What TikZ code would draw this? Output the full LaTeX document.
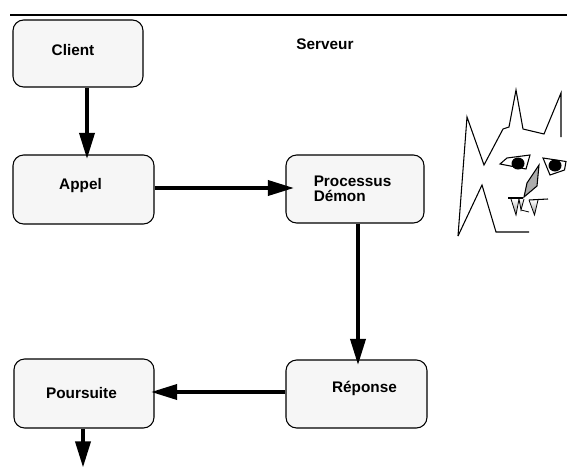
\documentclass[tikz,border=0pt]{standalone}
\usepackage{fontspec}
\setmainfont{Liberation Sans}
\usetikzlibrary{arrows.meta,calc}
\tikzset{
  box/.style={draw=black, line width=0.8pt, fill=gray!7, rounded corners=8pt, inner sep=0pt},
  lbl/.style={font=\fontsize{11.5}{11.5}\selectfont\bfseries, inner sep=0pt},
  flow/.style={line width=3.5pt, -{Triangle[length=20pt, width=11pt]}},
  sketch/.style={line width=0.8pt, line join=miter},
}
\begin{document}
\begin{tikzpicture}[x=0.75pt, y=-0.75pt]
\useasboundingbox (0,0) rectangle (567,468);

% heading rule
\draw[line width=1.5pt] (10,15) -- (567,15);
\node[lbl] (serveur) at (325,44) {Serveur};

% boxes
\node[box, minimum width=97.5pt, minimum height=50.25pt] (client) at (78,53.5) {};
\node[box, minimum width=105.75pt, minimum height=51.75pt] (appel) at (83.5,189.5) {};
\node[box, minimum width=103.5pt, minimum height=51pt] (demon) at (355,189) {};
\node[box, minimum width=105.75pt, minimum height=51pt] (reponse) at (356.5,394) {};
\node[box, minimum width=105pt, minimum height=51.75pt] (suite) at (84,393.5) {};

% labels
\node[lbl] (tclient) at (73,50) {Client};
\node[lbl] (tappel) at (80.5,186) {Appel};
\node[lbl, anchor=west, align=left, font=\fontsize{11.5}{11.25}\selectfont\bfseries] (tdemon) at (313.5,188.5) {Processus\\Démon};
\node[lbl] (treponse) at (364.5,388) {Réponse};
\node[lbl] (tsuite) at (81.5,393) {Poursuite};

% connectors
\coordinate (out) at (83,468);
\draw[flow, shorten >=-3.75pt] (client.south -| 87,0) -- (appel.north -| 87,0);
\draw[flow, shorten >=-6.75pt] (appel.east |- 0,188) -- (demon.west |- 0,188);
\draw[flow, shorten >=-4.5pt] (demon.south -| 358,0) -- (reponse.north -| 358,0);
\draw[flow, shorten >=-3pt] (reponse.west |- 0,392) -- (suite.east |- 0,392);
\draw[flow] (suite.south -| out) -- (out);

% the daemon's face
\draw[sketch] (458,236) -- (467,117) -- (484,165) -- (503,129) -- (509,127)
  -- (516,90) -- (523,129) -- (544,134) -- (561,93) -- (561,137);
\draw[sketch] (458,236) -- (482,185) -- (496,232) -- (529,232);
% eyes
\draw[sketch] (500,164) -- (507,158) -- (530,155) -- (526,169) -- cycle;
\fill (518,163.5) ellipse [x radius=6.5, y radius=6];
\draw[sketch] (543,158) -- (566,161.5) -- (564.5,170) -- (550,175) -- cycle;
\fill (555,165.5) ellipse [x radius=6.5, y radius=6];
% nose
\draw[sketch, fill=gray!65] (539,165) -- (527,183) -- (524,197) -- (537,186) -- cycle;
% mouth and fangs
\shade[top color=white, bottom color=gray!80] (511,199) -- (519,199) -- (516,215) -- cycle;
\draw[line width=0.6pt] (511,199) -- (516,215) -- (519,199);
\shade[top color=white, bottom color=gray!80] (519,199) -- (524,199) -- (521,210) -- cycle;
\draw[line width=0.6pt] (519,199) -- (521,210) -- (524,199);
\shade[top color=white, bottom color=gray!80] (529,200) -- (538,200) -- (534.5,215) -- cycle;
\draw[line width=0.6pt] (529,200) -- (534.5,215) -- (538,200);
\draw[line width=0.6pt] (521,210) -- (529,212);
\draw[sketch] (508,198) -- (523,198);
\draw[sketch] (529,200) -- (548,199);
\end{tikzpicture}
\end{document}
